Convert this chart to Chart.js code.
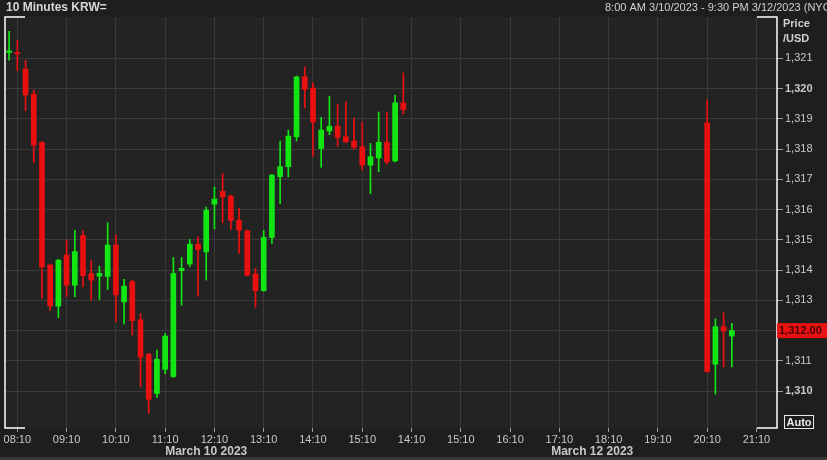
<!DOCTYPE html>
<html>
<head>
<meta charset="utf-8">
<script src="https://cdn.jsdelivr.net/npm/chart.js@4.4.1/dist/chart.umd.min.js"></script>
<style>
  html, body { margin: 0; padding: 0; background: #1e1e1e; }
  #wrap { width: 827px; height: 460px; }
</style>
</head>
<body>
<div id="wrap"><canvas id="chart" width="827" height="460"></canvas></div>
<script>
// 10 minute candles, March 10 session (08:00 - 16:00)
const mar10Open  = [1321.20, 1321.20, 1320.65, 1319.82, 1318.22, 1314.17, 1312.81, 1314.50, 1313.50, 1315.14,
                    1313.89, 1313.80, 1313.79, 1314.83, 1312.95, 1313.62, 1312.36, 1311.22, 1309.92, 1310.72,
                    1310.48, 1313.98, 1314.20, 1314.86, 1314.60, 1316.18, 1316.61, 1316.45, 1315.65, 1315.30,
                    1313.87, 1313.32, 1315.08, 1317.09, 1317.42, 1318.41, 1320.39, 1320.02, 1318.02, 1318.60,
                    1318.76, 1318.41, 1318.27, 1318.08, 1317.47, 1317.71, 1318.23, 1317.61, 1319.53];
const mar10High  = [1321.90, 1321.60, 1320.94, 1319.95, 1318.25, 1314.20, 1314.36, 1315.00, 1315.32, 1315.30,
                    1314.31, 1314.13, 1315.57, 1315.16, 1313.70, 1313.67, 1312.56, 1311.25, 1311.36, 1311.90,
                    1314.42, 1314.42, 1315.01, 1315.10, 1316.09, 1316.75, 1317.20, 1316.48, 1316.04, 1315.33,
                    1314.06, 1315.31, 1317.17, 1318.27, 1318.63, 1320.42, 1320.72, 1320.19, 1319.05, 1319.75,
                    1319.49, 1319.56, 1319.03, 1318.90, 1318.19, 1319.23, 1319.23, 1319.79, 1320.52];
const mar10Low   = [1320.94, 1320.59, 1319.27, 1317.56, 1313.07, 1312.66, 1312.43, 1313.12, 1313.12, 1313.45,
                    1313.01, 1313.03, 1313.36, 1312.29, 1312.22, 1311.85, 1310.14, 1309.26, 1309.79, 1310.58,
                    1310.45, 1312.84, 1314.11, 1313.14, 1313.67, 1315.36, 1315.57, 1315.35, 1314.55, 1313.80,
                    1312.77, 1313.30, 1314.88, 1316.20, 1317.08, 1318.27, 1319.36, 1317.77, 1317.40, 1318.48,
                    1318.08, 1318.21, 1317.99, 1317.31, 1316.53, 1317.25, 1317.50, 1317.58, 1319.16];
const mar10Close = [1321.25, 1321.15, 1319.79, 1318.13, 1314.11, 1312.81, 1314.33, 1313.50, 1314.61, 1313.82,
                    1313.67, 1313.89, 1314.83, 1313.18, 1313.47, 1312.33, 1311.12, 1309.73, 1311.05, 1311.82,
                    1313.89, 1314.06, 1314.86, 1314.68, 1315.98, 1316.35, 1316.42, 1315.64, 1315.32, 1313.83,
                    1313.32, 1315.08, 1317.14, 1317.42, 1318.43, 1320.39, 1319.98, 1318.90, 1318.63, 1318.76,
                    1318.39, 1318.24, 1318.06, 1317.47, 1317.75, 1318.23, 1317.58, 1319.53, 1319.31];

// March 12 session, candles 20:10 - 20:40
const mar12Open  = [1318.87, 1310.89, 1312.13, 1311.82];
const mar12High  = [1319.62, 1312.39, 1312.59, 1312.24];
const mar12Low   = [1310.62, 1309.90, 1310.80, 1310.80];
const mar12Close = [1310.64, 1312.13, 1311.99, 1312.00];

const yTicks = [1310, 1311, 1312, 1313, 1314, 1315, 1316, 1317, 1318, 1319, 1320, 1321];
const dayLabels = ['March 10 2023', 'March 12 2023'];

// time slots: Mar 10 08:00..16:00, then Mar 12 14:10..21:30
function slots(fromMin, toMin) {
  const out = [];
  for (let m = fromMin; m <= toMin; m += 10) {
    out.push(String(Math.floor(m / 60)).padStart(2, '0') + ':' + String(m % 60).padStart(2, '0'));
  }
  return out;
}
const labels10 = slots(8 * 60, 16 * 60);
const labels12 = slots(14 * 60 + 10, 21 * 60 + 30);
const labels = labels10.concat(labels12);

// place the sessions on the slot axis (Mar 12 data starts at 20:10)
const gap12 = labels12.indexOf('20:10');
function place(a10, a12) {
  const out = a10.slice();
  labels12.forEach((l, i) => {
    const j = i - gap12;
    out.push(j >= 0 && j < a12.length ? a12[j] : null);
  });
  return out;
}
const open = place(mar10Open, mar12Open);
const high = place(mar10High, mar12High);
const low = place(mar10Low, mar12Low);
const close = place(mar10Close, mar12Close);

const UP = '#12e612', DOWN = '#ea1010';
const colors = open.map((o, i) => (o === null ? UP : close[i] >= o ? UP : DOWN));
const bodies = open.map((o, i) => (o === null ? null : [o, close[i]]));
const wicks = low.map((l, i) => (l === null ? null : [l, high[i]]));
const lastClose = mar12Close[mar12Close.length - 1];

const FONT = '"Liberation Sans", Arial, sans-serif';
const fmt = v => v.toLocaleString('en-US');

const decorations = {
  id: 'decorations',
  beforeDraw(chart) {
    const { ctx, chartArea: a } = chart;
    ctx.save();
    ctx.fillStyle = '#1e1e1e';
    ctx.fillRect(0, 0, chart.width, chart.height);
    ctx.fillStyle = '#232323';
    ctx.fillRect(a.left, a.top, a.right - a.left, a.bottom - a.top);
    ctx.fillStyle = '#3a3a3a';
    ctx.fillRect(0, 457, chart.width, 3);
    ctx.restore();
  },
  afterDraw(chart) {
    const { ctx, chartArea: a } = chart;
    const x = chart.scales.x, y = chart.scales.y;
    ctx.save();
    // frame
    ctx.strokeStyle = '#ffffff';
    ctx.lineWidth = 1.5;
    ctx.beginPath();
    ctx.moveTo(a.left + 20, a.top); ctx.lineTo(a.left, a.top); ctx.lineTo(a.left, a.bottom); ctx.lineTo(a.left + 20, a.bottom);
    ctx.moveTo(a.right - 20, a.top); ctx.lineTo(a.right, a.top); ctx.lineTo(a.right, a.bottom); ctx.lineTo(a.right - 20, a.bottom);
    ctx.stroke();

    // title and range
    ctx.textBaseline = 'middle';
    ctx.fillStyle = '#d6d6d6';
    ctx.font = 'bold 12px ' + FONT;
    ctx.fillText('10 Minutes KRW=', 6, 8);
    ctx.font = '11px ' + FONT;
    ctx.fillStyle = '#d0d0d0';
    ctx.fillText('8:00 AM 3/10/2023 - 9:30 PM 3/12/2023 (NYC)', 605, 8);
    ctx.font = 'bold 11px ' + FONT;
    ctx.fillText('Price', 783, 24);
    ctx.fillText('/USD', 783, 39);

    // day labels under the time axis
    ctx.font = 'bold 12px ' + FONT;
    ctx.fillStyle = '#c8c8c8';
    ctx.textAlign = 'center';
    const split = x.getPixelForValue(labels10.length - 0.5);
    ctx.fillText(dayLabels[0], (a.left + split) / 2, 452);
    ctx.fillText(dayLabels[1], (split + a.right) / 2, 452);

    // last price box
    const py = y.getPixelForValue(lastClose);
    ctx.fillStyle = '#e81212';
    ctx.fillRect(a.right, py - 7.5, chart.width - a.right, 15);
    ctx.fillStyle = '#4a0000';
    ctx.textAlign = 'left';
    ctx.font = 'bold 11px ' + FONT;
    ctx.fillText(lastClose.toLocaleString('en-US', { minimumFractionDigits: 2 }), a.right + 2, py + 0.5);

    // Auto button
    ctx.strokeStyle = '#e8e8e8';
    ctx.lineWidth = 1;
    ctx.strokeRect(784.5, 415.5, 29, 13);
    ctx.fillStyle = '#e8e8e8';
    ctx.textAlign = 'center';
    ctx.fillText('Auto', 799, 422.5);
    ctx.restore();
  }
};

new Chart(document.getElementById('chart'), {
  type: 'bar',
  data: {
    labels: labels,
    datasets: [
      {
        label: 'Body',
        data: bodies,
        backgroundColor: colors,
        borderWidth: 0,
        barThickness: 5,
        grouped: false
      },
      {
        label: 'Wick',
        data: wicks,
        backgroundColor: colors,
        borderWidth: 0,
        barThickness: 1,
        grouped: false
      }
    ]
  },
  options: {
    responsive: false,
    animation: false,
    layout: { padding: { left: 5, top: 17, right: 0, bottom: 0 } },
    plugins: { legend: { display: false }, tooltip: { enabled: false } },
    scales: {
      x: {
        offset: true,
        afterBuildTicks: scale => {
          scale.ticks = scale.ticks.filter(t => labels[t.value].endsWith(':10'));
        },
        afterFit: scale => { scale.height = 32; },
        grid: { color: '#3a3a3a', offset: false, tickLength: 4, tickColor: '#9a9a9a' },
        border: { display: false },
        ticks: {
          autoSkip: false,
          maxRotation: 0,
          padding: 1,
          color: '#c8c8c8',
          font: { family: FONT, size: 11 },
          callback: function (v) { return this.getLabelForValue(v); }
        }
      },
      y: {
        position: 'right',
        min: 1308.78,
        max: 1322.37,
        afterBuildTicks: scale => { scale.ticks = yTicks.map(v => ({ value: v })); },
        afterFit: scale => { scale.width = 50; },
        grid: { color: '#3a3a3a', tickLength: 6, tickColor: '#9a9a9a' },
        border: { display: false },
        ticks: {
          padding: 2,
          color: '#c8c8c8',
          font: ctx => ({ family: FONT, size: 11, weight: ctx.tick && ctx.tick.value % 10 === 0 ? 'bold' : 'normal' }),
          callback: v => fmt(v)
        }
      }
    }
  },
  plugins: [decorations]
});
</script>
</body>
</html>
